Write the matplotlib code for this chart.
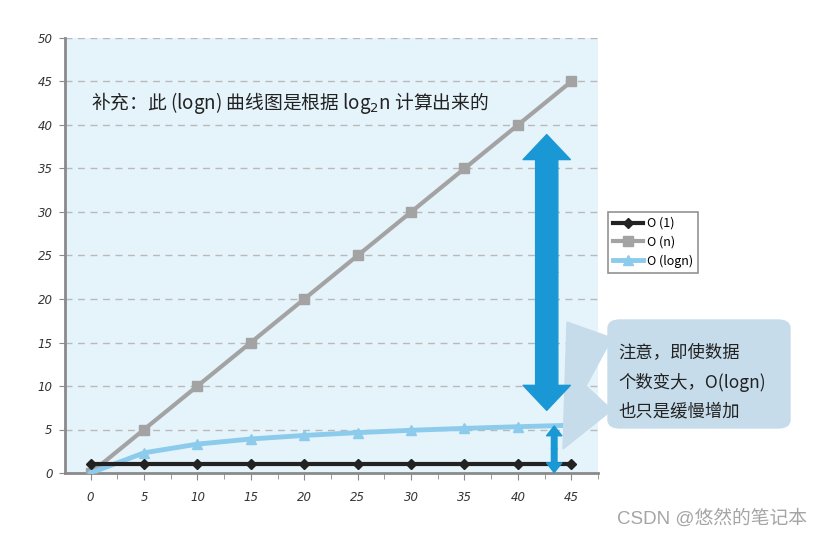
import matplotlib
matplotlib.use("Agg")
import matplotlib.pyplot as plt
import matplotlib.patches as mpatches
from matplotlib.patches import FancyArrowPatch, FancyBboxPatch, Polygon

plt.rcParams['font.family'] = ['Noto Sans CJK SC', 'DejaVu Sans']

# data
n_values = [0, 5, 10, 15, 20, 25, 30, 35, 40, 45]
o_1 = [1, 1, 1, 1, 1, 1, 1, 1, 1, 1]
o_n = [0, 5, 10, 15, 20, 25, 30, 35, 40, 45]
o_logn = [0, 2.32, 3.32, 3.91, 4.32, 4.64, 4.91, 5.13, 5.32, 5.49]
series_labels = ['O (1)', 'O (n)', 'O (logn)']
y_ticks = [0, 5, 10, 15, 20, 25, 30, 35, 40, 45, 50]
x_ticks = [0, 5, 10, 15, 20, 25, 30, 35, 40, 45]

note_text = '补充：此 (logn) 曲线图是根据 log$_2$n 计算出来的'
callout_text = '注意，即使数据\n个数变大，O(logn)\n也只是缓慢增加'

W, H = 824, 538
fig = plt.figure(figsize=(W / 100, H / 100), dpi=100)
ax = fig.add_axes([65 / W, 1 - 473 / H, (598 - 65) / W, (473 - 38) / H])
ax.set_facecolor('#e5f3fb')

ax.set_xlim(-2.4, 47.5)
ax.set_ylim(0, 50)

for y in y_ticks[1:]:
    ax.axhline(y, color='#b9b9b9', lw=1, ls=(0, (5, 4)), zorder=1)

ax.plot(n_values, o_1, color='#222222', lw=3, marker='D', ms=5, label=series_labels[0], zorder=4)
ax.plot(n_values, o_n, color='#a3a3a3', lw=3, marker='s', ms=7, label=series_labels[1], zorder=3)
ax.plot(n_values, o_logn, color='#8dcbec', lw=3.5, marker='^', ms=7, label=series_labels[2], zorder=3)

for s in ['top', 'right']:
    ax.spines[s].set_visible(False)
for s in ['left', 'bottom']:
    ax.spines[s].set_color('#8a8a8a')
    ax.spines[s].set_linewidth(2)

ax.set_xticks(x_ticks)
ax.set_yticks(y_ticks)
ax.set_xticks([x + 2.5 for x in x_ticks], minor=True)
ax.tick_params(axis='both', which='both', colors='#8a8a8a', labelcolor='#333333',
               labelsize=8.5, direction='out')
ax.tick_params(axis='x', which='major', length=5, pad=8)
ax.tick_params(axis='x', which='minor', length=4)
ax.tick_params(axis='y', which='major', length=4, pad=5)
for lab in ax.get_xticklabels() + ax.get_yticklabels():
    lab.set_fontstyle('italic')
    lab.set_family('DejaVu Sans')

ax.text(0, 42.5, note_text, fontsize=13.5, color='#222222', va='center', ha='left')


def px(x, y):
    return (x / W, 1 - y / H)


# callout bubble (drawn in the axes so the arrows sit on top of it)
bubble_color = '#c6dcea'
tail = Polygon([px(567, 322), px(612, 338), px(586, 386), px(612, 410), px(563, 449)],
               closed=True, transform=fig.transFigure, color=bubble_color,
               zorder=5, clip_on=False)
ax.add_patch(tail)
bx0, by0 = px(608, 428)
bx1, by1 = px(790, 320)
box = FancyBboxPatch((bx0, by0), bx1 - bx0, by1 - by0,
                     boxstyle='round,pad=0,rounding_size=0.015',
                     transform=fig.transFigure, color=bubble_color,
                     zorder=5, clip_on=False)
ax.add_patch(box)
fig.text(*px(618, 382), callout_text, fontsize=12.5, color='#222222',
         va='center', ha='left', linespacing=1.75, zorder=7)

# big double arrow
big = dict(arrowstyle=mpatches.ArrowStyle.Simple(head_length=18, head_width=34, tail_width=16),
           color='#1a98d5', mutation_scale=1, shrinkA=0, shrinkB=0, zorder=6)
mid = (38.9 + 7.2) / 2
ax.add_patch(FancyArrowPatch((42.7, mid), (42.7, 38.9), **big))
ax.add_patch(FancyArrowPatch((42.7, mid), (42.7, 7.2), **big))

small = dict(arrowstyle=mpatches.ArrowStyle.Simple(head_length=7, head_width=11, tail_width=4),
             color='#1a98d5', mutation_scale=1, shrinkA=0, shrinkB=0, zorder=6)
ax.add_patch(FancyArrowPatch((43.4, 2.8), (43.4, 5.4), **small))
ax.add_patch(FancyArrowPatch((43.4, 2.8), (43.4, 0.05), **small))

leg = ax.legend(loc='upper left', bbox_to_anchor=px(608, 212), bbox_transform=fig.transFigure,
                fontsize=9, frameon=True, fancybox=False, handlelength=2.4,
                handletextpad=0.3, borderpad=0.4, labelspacing=0.45, borderaxespad=0)
leg.get_frame().set_edgecolor('#777777')
leg.get_frame().set_linewidth(1.2)

fig.text(*px(617, 519), 'CSDN @悠然的笔记本', fontsize=13.5, color='#a5a5a5',
         va='center', ha='left', family=['Liberation Sans', 'Noto Sans CJK SC'])

fig.savefig('out.png', dpi=100)
